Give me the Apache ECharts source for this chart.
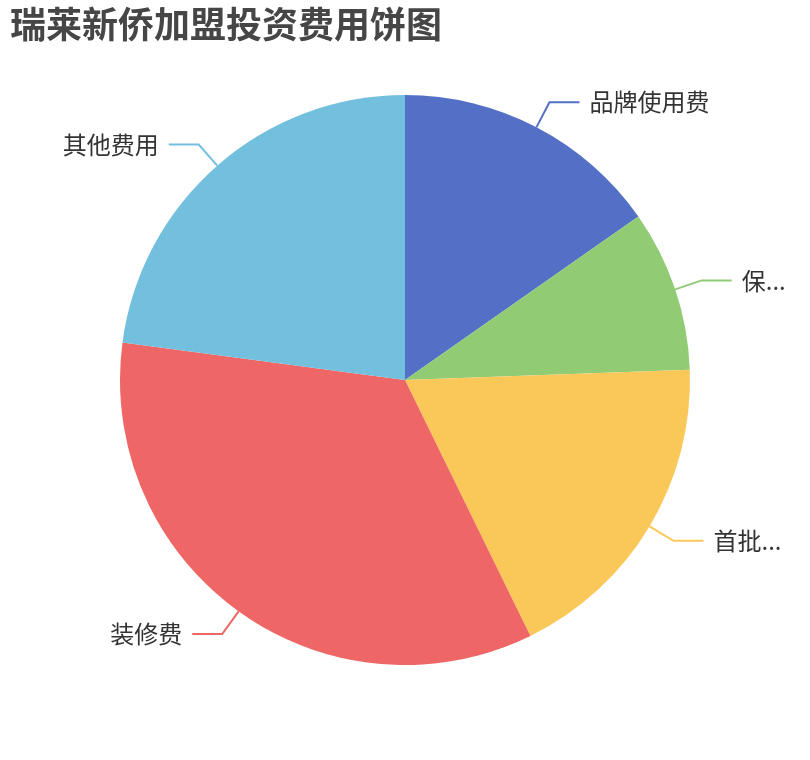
<!DOCTYPE html>
<html>
<head>
<meta charset="utf-8">
<script src="https://cdn.jsdelivr.net/npm/echarts@6/dist/echarts.min.js"></script>
<style>html,body{margin:0;padding:0;background:#fff}#c{width:810px;height:760px}</style>
</head>
<body>
<div id="c"></div>
<script>
const titleText = '瑞莱新侨加盟投资费用饼图';
const categories = ['品牌使用费', '保证金', '首批进货费', '装修费', '其他费用'];
const values = [10, 6, 12, 22.5, 15];
const colors = ['#5470c6', '#91cc75', '#fac858', '#ee6666', '#73c0de'];

const chart = echarts.init(document.getElementById('c'));
chart.setOption({
  color: colors,
  title: {
    text: titleText,
    left: 5,
    top: 1,
    textStyle: { fontSize: 36, fontWeight: 'bold', color: '#464646', fontFamily: 'Noto Sans CJK SC' }
  },
  series: [{
    type: 'pie',
    radius: '75%',
    center: ['50%', '50%'],
    data: categories.map((n, i) => ({ name: n, value: values[i] })),
    label: { fontSize: 24, color: '#333', fontFamily: 'Noto Sans CJK SC', distanceToLabelLine: 10 },
    labelLine: { length: 28, length2: 30, lineStyle: { width: 2 } }
  }]
});
</script>
</body>
</html>
